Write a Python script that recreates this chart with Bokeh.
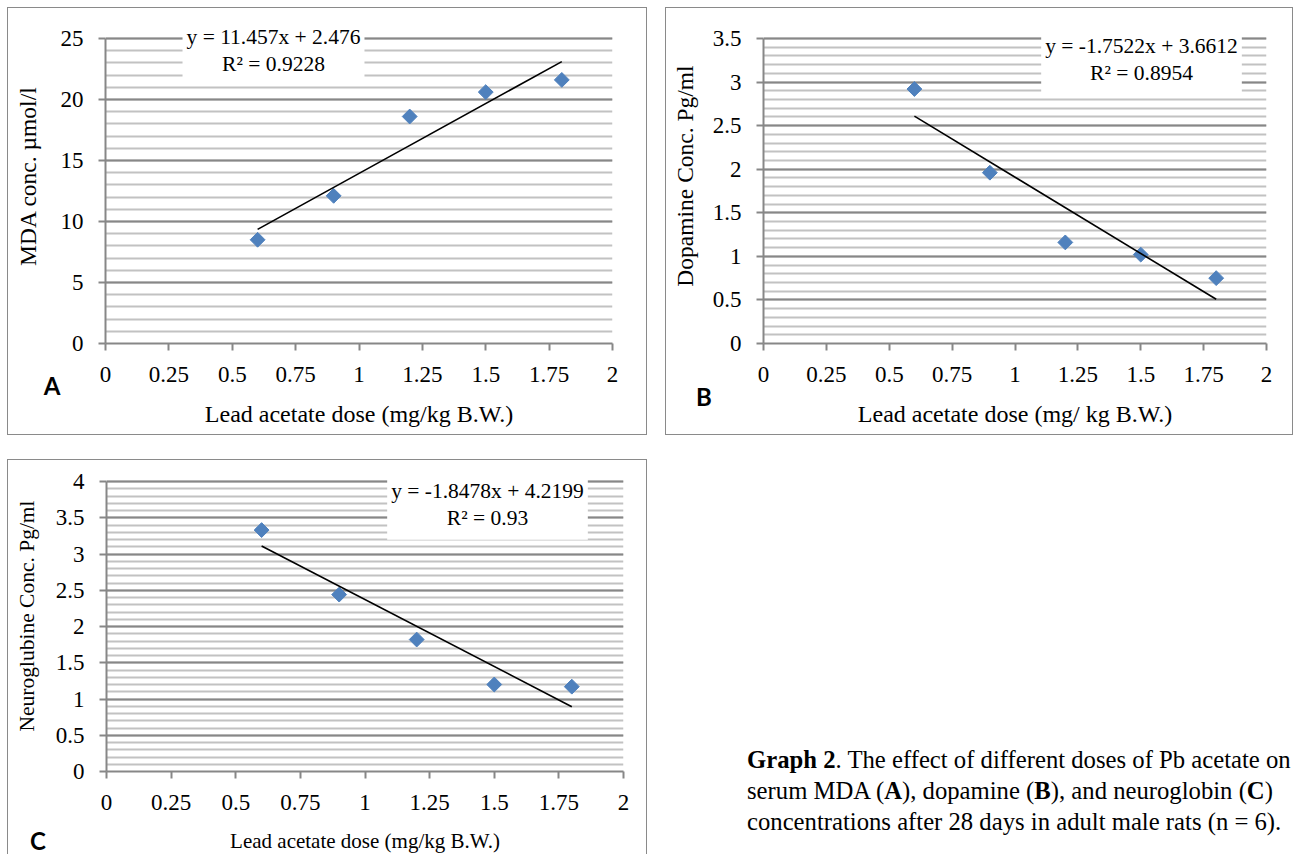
import numpy as np
from bokeh.plotting import figure
from bokeh.models import (Range1d, SingleIntervalTicker, FixedTicker,
                          NumeralTickFormatter, Label, Div, Spacer)
from bokeh.layouts import row, column
from bokeh.embed import file_html
from bokeh.resources import INLINE

# ---------------- data ----------------
dose = [0.6, 0.9, 1.2, 1.5, 1.8]
mda = [8.5, 12.1, 18.6, 20.6, 21.6]
dopamine = [2.92, 1.96, 1.16, 1.02, 0.75]
neuroglobin = [3.33, 2.44, 1.82, 1.20, 1.17]

mda_fit = (11.457, 2.476)
dopamine_fit = (-1.7522, 3.6612)
neuroglobin_fit = (-1.8478, 4.2199)

mda_eq = "y = 11.457x + 2.476\nR² = 0.9228"
dopamine_eq = "y = -1.7522x + 3.6612\nR² = 0.8954"
neuroglobin_eq = "y = -1.8478x + 4.2199\nR² = 0.93"

x_ticks = [0, 0.25, 0.5, 0.75, 1, 1.25, 1.5, 1.75, 2]

SERIF = "Liberation Serif"
GRID_MAJOR = "#878787"
GRID_MINOR = "#c2c2c2"
MARKER = "#4F81BD"
BORDER = "1px solid #8a8a8a"


def panel(cx, cy, W, H, fl, fr, fb, ftop_nom, ymax_nom, yint, yfmt, ys, fit,
          eq, eq_pos, ytitle, xtitle, styles, xtitle_size, ytitle_size,
          ylab_standoff):
    """cx, cy: page position of the canvas; fl, fr, fb: frame left/right/bottom
    (page px); ftop_nom: page px where the top tick value ymax_nom lies."""
    ppu = (fb - ftop_nom) / ymax_nom
    ymax = ymax_nom + (ftop_nom - cy) / ppu          # frame extends up to canvas top
    p = figure(width=W, height=H, x_range=Range1d(0, 2), y_range=Range1d(0, ymax),
               output_backend="svg", toolbar_location=None,
               min_border_left=fl - cx, min_border_right=cx + W - fr,
               min_border_top=0, min_border_bottom=cy + H - fb,
               outline_line_color=None, styles=styles)

    def to_data(px, py):
        return ((px - fl) / (fr - fl) * 2.0, (fb - py) / ppu)

    p.xaxis.ticker = FixedTicker(ticks=x_ticks, minor_ticks=[])
    p.xaxis.formatter = NumeralTickFormatter(format="0.[00]")
    yt = SingleIntervalTicker(interval=yint, num_minor_ticks=5)
    p.yaxis.ticker = yt
    p.ygrid.ticker = yt
    p.yaxis.bounds = (0, ymax_nom)
    p.ygrid.bounds = (0, ymax_nom)
    p.yaxis.formatter = NumeralTickFormatter(format=yfmt)

    p.xgrid.grid_line_color = None
    p.ygrid.grid_line_color = GRID_MAJOR
    p.ygrid.grid_line_width = 2
    p.ygrid.minor_grid_line_color = GRID_MINOR
    p.ygrid.minor_grid_line_width = 1.8

    for ax in (p.xaxis, p.yaxis):
        ax.axis_line_color = GRID_MAJOR
        ax.axis_line_width = 2
        ax.major_tick_line_color = GRID_MAJOR
        ax.major_tick_line_width = 2
        ax.major_tick_out = 7
        ax.major_tick_in = 0
        ax.minor_tick_out = 0
        ax.minor_tick_in = 0
        ax.major_label_text_font = SERIF
        ax.major_label_text_font_size = "23px"
        ax.major_label_text_color = "black"
        ax.axis_label_text_font = SERIF
        ax.axis_label_text_font_style = "normal"
        ax.axis_label_text_color = "black"
    p.xaxis.axis_label = xtitle
    p.xaxis.axis_label_text_font_size = xtitle_size
    p.yaxis.axis_label = ytitle
    p.yaxis.axis_label_text_font_size = ytitle_size
    p.xaxis.major_label_standoff = 16
    p.xaxis.axis_label_standoff = 16
    p.yaxis.major_label_standoff = 15
    p.yaxis.axis_label_standoff = ylab_standoff

    p.scatter(dose, ys, marker="square", size=10.5, angle=np.pi / 4,
              fill_color=MARKER, line_color=MARKER)
    x0, x1 = min(dose), max(dose)
    p.line([x0, x1], [fit[0] * x0 + fit[1], fit[0] * x1 + fit[1]],
           line_color="black", line_width=1.6)

    ex, ey = to_data(*eq_pos)
    p.add_layout(Label(x=ex, y=ey, text=eq, text_align="center",
                       text_baseline="middle", text_font=SERIF,
                       text_font_size="21.5px", text_color="black",
                       text_line_height=1.1,
                       background_fill_color="white", padding=(4, 10)))
    return p


# Panel A: canvas at (8, 8), frame x 105..612, 0 at y=344, 25 at y=38
pA = panel(8, 8, 640, 428, 105, 612, 344, 38, 25, 5, "0",
           mda, mda_fit, mda_eq, (273, 50),
           "MDA conc. µmol/l", "Lead acetate dose (mg/kg B.W.)",
           {"border": BORDER}, "24px", "23.5px", 17)

# Panel B: canvas at (668, 8), frame x 765..1268, 0 at y=343, 3.5 at y=38
pB = panel(668, 8, 628, 428, 765, 1268, 343, 38, 3.5, 0.5, "0.[0]",
           dopamine, dopamine_fit, dopamine_eq, (1143, 59),
           "Dopamine Conc. Pg/ml", "Lead acetate dose (mg/ kg B.W.)",
           {"border": BORDER}, "24px", "23.5px", 12)

# Panel C: canvas at (8, 462), frame x 106..623, 0 at y=773, 4 at y=483
pC = panel(8, 462, 640, 395, 106, 623, 773, 483, 4, 0.5, "0.[0]",
           neuroglobin, neuroglobin_fit, neuroglobin_eq, (487, 506),
           "Neuroglubine Conc. Pg/ml", "Lead acetate dose (mg/kg B.W.)",
           {"border-top": BORDER, "border-left": BORDER, "border-right": BORDER},
           "21px", "21.5px", 14)

caption = Div(
    text=("<div style=\"font-family:'Liberation Serif';font-size:24.7px;"
          "line-height:31px;color:#000;white-space:nowrap;"
          "padding-left:95px;padding-top:280px;\">"
          "<b>Graph 2</b>. The effect of different doses of Pb acetate on<br>"
          "serum MDA (<b>A</b>), dopamine (<b>B</b>), and neuroglobin (<b>C</b>)<br>"
          "concentrations after 28 days in adult male rats (n = 6).</div>"),
    width=640, height=380)


def letter(txt, cx, cy):
    return Div(text=("<div style=\"font-family:Lato;font-weight:bold;font-size:24px;"
                     "line-height:30px;width:30px;text-align:center;color:#000\">"
                     + txt + "</div>"),
               width=30, height=30,
               styles={"position": "absolute", "left": f"{cx - 15}px",
                       "top": f"{cy - 15}px"})


layout = column(
    Spacer(height=7),
    row(Spacer(width=7), pA, Spacer(width=18), pB),
    Spacer(height=24),
    row(Spacer(width=7), pC, caption),
    letter("A", 47, 381),
    letter("B", 699, 392),
    letter("C", 33, 836),
)

open("out.html", "w").write(file_html(layout, INLINE))
